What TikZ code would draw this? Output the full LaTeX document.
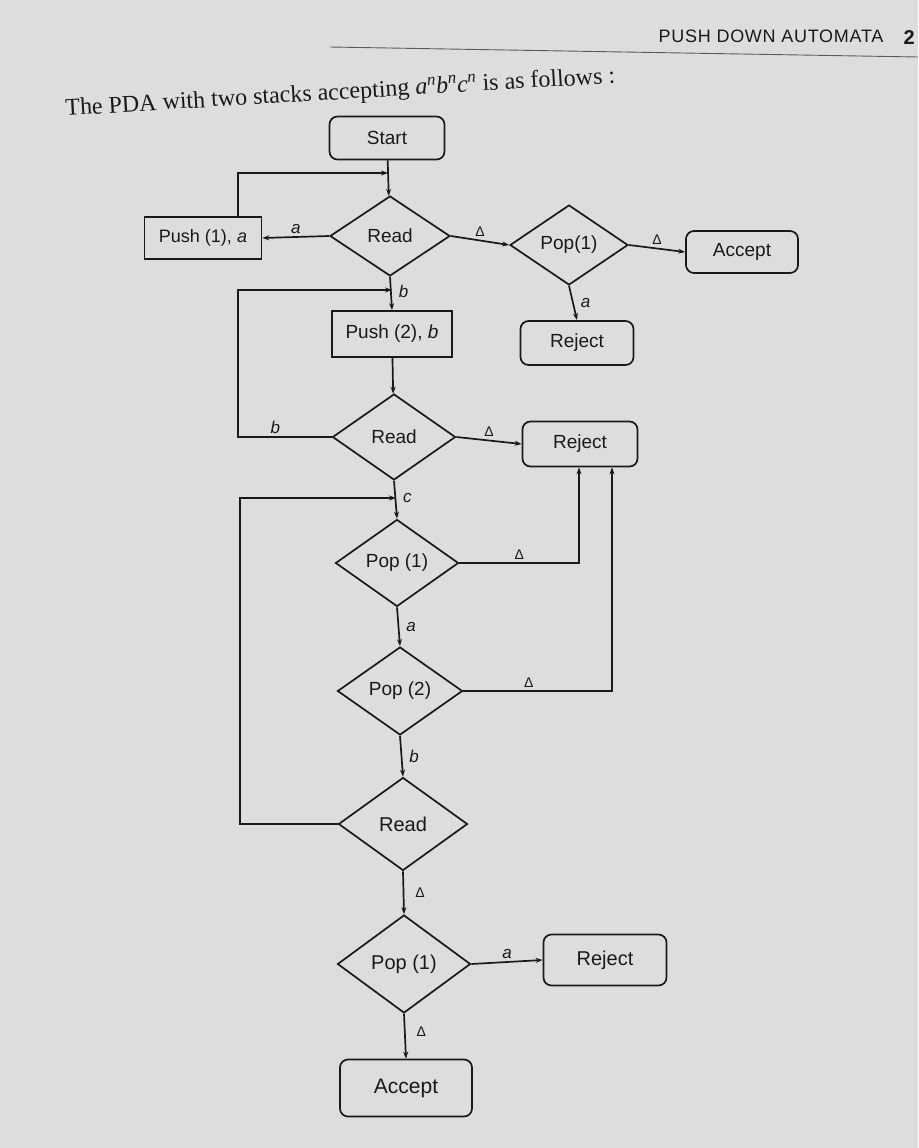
\documentclass[tikz,border=0pt]{standalone}
\usepackage{fontspec}
\setmainfont{Liberation Sans}
\newfontfamily\seriffont{Liberation Serif}
\usetikzlibrary{shapes.geometric,arrows.meta}
\definecolor{pagegray}{RGB}{221,222,220}
\definecolor{inkc}{RGB}{25,25,25}
\begin{document}
\begin{tikzpicture}[x=1pt,y=-1pt,
  every node/.style={text=inkc},
  base/.style={draw=inkc, line width=1.7pt, font=\fontsize{19}{22}\selectfont, inner sep=0pt},
  term/.style={base, rectangle, rounded corners=8pt},
  proc/.style={base, rectangle},
  dec/.style={base, diamond},
  arr/.style={draw=inkc, line width=1.7pt, -{Stealth[length=7pt,width=5pt]}},
  lbl/.style={font=\fontsize{17}{20}\selectfont\itshape, inner sep=2pt},
  dlt/.style={font=\fontsize{14}{17}\selectfont, inner sep=3pt}
]
\useasboundingbox (0,0) rectangle (918,1148);
\fill[pagegray] (0,0) rectangle (918,1148);
\draw[gray!70!black, line width=0.9pt] (330,47) -- (918,57);

% header and caption
\node[anchor=east, font=\fontsize{18}{21}\selectfont\addfontfeatures{LetterSpace=4}, text=inkc] (hdr) at (887,36) {PUSH DOWN AUTOMATA};
\node[anchor=west, font=\fontsize{20}{23}\selectfont\bfseries, text=inkc] (pg) at (900,38) {2};
\node[anchor=south west, rotate=3.4, font=\seriffont\fontsize{24}{28}\selectfont, inner sep=0pt] (cap) at (66,121)
  {The PDA with two stacks accepting \textit{a}\textsuperscript{\textit{n}}\textit{b}\textsuperscript{\textit{n}}\textit{c}\textsuperscript{\textit{n}} is as follows :};

% nodes
\node[term, minimum width=115pt, minimum height=43pt] (start) at (387,138) {Start};
\node[dec, minimum width=120pt, minimum height=80pt] (read1) at (390,236) {Read};
\node[proc, minimum width=117pt, minimum height=42pt, font=\fontsize{18}{21}\selectfont] (push1) at (203,238) {Push (1), \textit{a}};
\node[dec, minimum width=118pt, minimum height=80pt] (pop1) at (569,245) {Pop(1)};
\node[term, minimum width=112pt, minimum height=42pt] (acc1) at (742,252) {Accept};
\node[term, minimum width=113pt, minimum height=44pt] (rej1) at (577,343) {Reject};
\node[proc, minimum width=120pt, minimum height=46pt] (push2) at (392,334) {Push (2), \textit{b}};
\node[dec, minimum width=123pt, minimum height=86pt] (read2) at (394,437) {Read};
\node[term, minimum width=115pt, minimum height=45pt] (rej2) at (580,444) {Reject};
\node[dec, minimum width=123pt, minimum height=87pt] (pop1m) at (397,563) {Pop (1)};
\node[dec, minimum width=125pt, minimum height=88pt] (pop2) at (400,691) {Pop (2)};
\node[dec, minimum width=129pt, minimum height=93pt, font=\fontsize{20}{23}\selectfont] (read3) at (403,824) {Read};
\node[dec, minimum width=133pt, minimum height=98pt, font=\fontsize{20}{23}\selectfont] (pop1b) at (404,964) {Pop (1)};
\node[term, minimum width=123pt, minimum height=51pt, font=\fontsize{20}{23}\selectfont] (rej3) at (605,960) {Reject};
\node[term, minimum width=132pt, minimum height=57pt, font=\fontsize{21}{24}\selectfont] (acc2) at (406,1088) {Accept};

% junction points on the main column
\coordinate (j1) at (388,173);
\coordinate (j2) at (392,290);
\coordinate (j3) at (396,498);

% connectors
\draw[arr] (start) -- (read1);
\draw[arr] ([xshift=35pt]push1.north) |- (j1);
\draw[arr] (read1.west) -- node[lbl, above] {a} (push1.east);
\draw[arr] (read1.east) -- node[dlt, above] {Δ} (pop1.west);
\draw[arr] (pop1.east) -- node[dlt, above] {Δ} (acc1.west);
\draw[arr] (pop1.south) -- node[lbl, right=5pt] {a} (rej1.north);
\draw[arr] (read1.south) -- node[lbl, right=5pt, pos=0.45] {b} (push2.north);
\draw[arr] (read2.west) -- node[lbl, above, pos=0.6] {b} ++(-94,0) |- (j2);
\draw[arr] (push2) -- (read2);
\draw[arr] (read2.east) -- node[dlt, above] {Δ} (rej2.west);
\draw[arr] (read2.south) -- node[lbl, right=5pt, pos=0.45] {c} (pop1m.north);
\draw[arr] (read3.west) -- ++(-98,0) |- (j3);
\draw[arr] (pop1m.east) -| node[dlt, above, pos=0.25] {Δ} ([xshift=-1pt]rej2.south);
\draw[arr] (pop2.east) -| node[dlt, above, pos=0.22] {Δ} ([xshift=32pt]rej2.south);
\draw[arr] (pop1m.south) -- node[lbl, right=5pt] {a} (pop2.north);
\draw[arr] (pop2.south) -- node[lbl, right=5pt] {b} (read3.north);
\draw[arr] (read3.south) -- node[dlt, right=8pt] {Δ} (pop1b.north);
\draw[arr] (pop1b.east) -- node[lbl, above, pos=0.5] {a} (rej3.west);
\draw[arr] (pop1b.south) -- node[dlt, right=8pt, pos=0.4] {Δ} (acc2.north);
\end{tikzpicture}
\end{document}
